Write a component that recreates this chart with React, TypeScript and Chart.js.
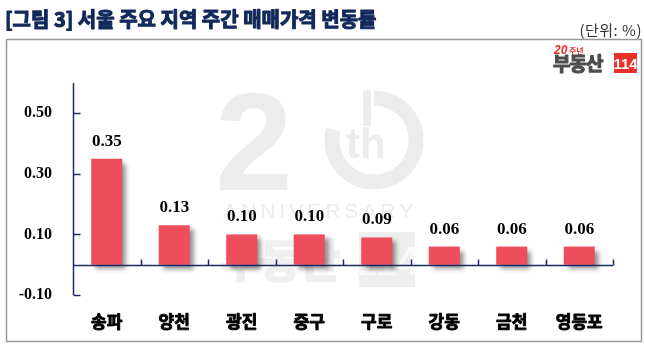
import React, { useEffect, useRef } from 'react';
import { Chart, registerables } from 'chart.js';

Chart.register(...registerables);

const categories = ['송파', '양천', '광진', '중구', '구로', '강동', '금천', '영등포'];
const values = [0.35, 0.13, 0.1, 0.1, 0.09, 0.06, 0.06, 0.06];
const yTickValues = [-0.1, 0.1, 0.3, 0.5];
const yMin = -0.1;
const yMax = 0.6;
const titleText = '[그림 3] 서울 주요 지역 주간 매매가격 변동률';
const unitText = '(단위: %)';

const NAVY = '#1b2a66';
const WM = '#ececec';

function boldText(ctx: CanvasRenderingContext2D, text: string, x: number, y: number, w: number) {
  ctx.lineWidth = w;
  ctx.lineJoin = 'round';
  ctx.strokeStyle = ctx.fillStyle as string;
  ctx.strokeText(text, x, y);
  ctx.fillText(text, x, y);
}

const deco = {
  id: 'deco',
  beforeDatasetsDraw(chart: any) {
    const ctx = chart.ctx as CanvasRenderingContext2D;
    ctx.save();
    // watermark
    ctx.fillStyle = WM;
    ctx.strokeStyle = WM;
    ctx.textBaseline = 'alphabetic';
    ctx.textAlign = 'left';
    ctx.font = 'bold 140px "Liberation Sans"';
    ctx.fillText('2', 215, 190);
    ctx.lineWidth = 15;
    ctx.beginPath();
    ctx.arc(374, 140, 42, -Math.PI / 2, Math.PI * 1.08);
    ctx.stroke();
    ctx.fillRect(363, 90, 8, 36);
    ctx.font = 'bold 42px "Liberation Sans"';
    ctx.fillText('th', 346, 158);
    ctx.font = '21px "Liberation Sans"';
    (ctx as any).letterSpacing = '4px';
    ctx.fillText('ANNIVERSARY', 223, 218);
    (ctx as any).letterSpacing = '-2px';
    ctx.fillStyle = '#efefef';
    ctx.font = 'bold 45px "Noto Sans CJK KR"';
    boldText(ctx, '부동산', 220, 278, 2);
    (ctx as any).letterSpacing = '0px';
    ctx.fillStyle = '#eeeeee';
    ctx.fillRect(359, 232, 56, 55);
    ctx.fillStyle = '#f9f9f9';
    ctx.font = 'bold 40px "Liberation Sans Narrow", "Liberation Sans"';
    ctx.textAlign = 'center';
    ctx.fillText('114', 387, 275);
    ctx.restore();

    // bar shadow
    ctx.save();
    ctx.shadowColor = 'rgba(0,0,0,0.45)';
    ctx.shadowBlur = 5;
    ctx.shadowOffsetX = 4;
    ctx.shadowOffsetY = 4;
  },
  afterDatasetsDraw(chart: any) {
    const ctx = chart.ctx as CanvasRenderingContext2D;
    ctx.restore();
    const { chartArea } = chart;
    const xs = chart.scales.x;
    const ys = chart.scales.y;
    ctx.save();
    ctx.strokeStyle = NAVY;
    ctx.lineWidth = 1.5;
    const left = Math.round(chartArea.left) + 0.5;
    // y axis line
    ctx.beginPath();
    ctx.moveTo(left, ys.getPixelForValue(yMax));
    ctx.lineTo(left, ys.getPixelForValue(yMin));
    ctx.stroke();
    // y ticks (inside)
    yTickValues.forEach((v) => {
      const y = Math.round(ys.getPixelForValue(v)) + 0.5;
      ctx.beginPath();
      ctx.moveTo(left, y);
      ctx.lineTo(left + 7, y);
      ctx.stroke();
    });
    // x axis at zero
    const y0 = Math.round(ys.getPixelForValue(0)) + 0.5;
    ctx.beginPath();
    ctx.moveTo(left, y0);
    ctx.lineTo(chartArea.right, y0);
    ctx.stroke();
    for (let i = 1; i <= categories.length; i++) {
      const x = Math.round(xs.getPixelForValue(i - 0.5)) + 0.5;
      ctx.beginPath();
      ctx.moveTo(x, y0);
      ctx.lineTo(x, y0 - 6);
      ctx.stroke();
    }
    // value labels
    const meta = chart.getDatasetMeta(0);
    ctx.fillStyle = '#000';
    ctx.font = 'bold 17px "Liberation Serif"';
    ctx.textAlign = 'center';
    ctx.textBaseline = 'alphabetic';
    meta.data.forEach((bar: any, i: number) => {
      ctx.fillText(values[i].toFixed(2), bar.x, bar.y - 13);
    });
    // category labels
    ctx.font = 'bold 17px "Noto Sans CJK KR"';
    categories.forEach((c, i) => {
      boldText(ctx, c, xs.getPixelForValue(i), 328, 0.9);
    });
    ctx.restore();
  },
  afterDraw(chart: any) {
    const ctx = chart.ctx as CanvasRenderingContext2D;
    ctx.save();
    // title
    ctx.fillStyle = '#13295b';
    ctx.font = 'bold 20px "Noto Sans CJK KR"';
    ctx.textAlign = 'left';
    ctx.textBaseline = 'alphabetic';
    boldText(ctx, titleText, 5, 27, 1.1);
    // unit
    ctx.fillStyle = '#333';
    ctx.font = '15px "Noto Sans CJK KR"';
    (ctx as any).letterSpacing = '0.5px';
    ctx.textAlign = 'right';
    ctx.fillText(unitText, 642, 36);
    (ctx as any).letterSpacing = '0px';
    // frame
    ctx.strokeStyle = '#999';
    ctx.lineWidth = 1.5;
    ctx.strokeRect(6.5, 39.5, 635, 302);
    // logo
    ctx.textAlign = 'left';
    ctx.fillStyle = '#e8312a';
    ctx.font = 'bold italic 12px "Liberation Sans"';
    ctx.fillText('20', 554, 54);
    ctx.font = 'bold 8px "Noto Sans CJK KR"';
    ctx.fillText('주년', 569, 54);
    ctx.fillStyle = '#4d4d4d';
    ctx.font = 'bold 19px "Noto Sans CJK KR"';
    (ctx as any).letterSpacing = '-1px';
    boldText(ctx, '부동산', 553, 71, 1.2);
    (ctx as any).letterSpacing = '0px';
    ctx.fillStyle = '#e8312a';
    ctx.fillRect(614, 53, 23, 20);
    ctx.fillStyle = '#fff';
    ctx.font = 'bold 15px "Liberation Sans Narrow", "Liberation Sans"';
    ctx.textAlign = 'center';
    ctx.fillText('114', 625.5, 69);
    ctx.restore();
  },
};

export default function App() {
  const ref = useRef<HTMLCanvasElement>(null);
  useEffect(() => {
    const chart = new Chart(ref.current as HTMLCanvasElement, {
      type: 'bar',
      data: {
        labels: categories,
        datasets: [
          {
            data: values,
            backgroundColor: '#EE4E5C',
            barPercentage: 0.46,
            categoryPercentage: 1,
          },
        ],
      },
      options: {
        animation: false,
        responsive: false,
        maintainAspectRatio: false,
        devicePixelRatio: 1,
        layout: { padding: { left: 0, right: 32, top: 83, bottom: 0 } },
        plugins: { legend: { display: false }, tooltip: { enabled: false } },
        scales: {
          x: {
            grid: { display: false, drawTicks: false },
            border: { display: false },
            ticks: { display: false },
            afterFit(s: any) {
              s.height = 67;
            },
          },
          y: {
            min: yMin,
            max: yMax,
            afterBuildTicks(s: any) {
              s.ticks = yTickValues.map((v) => ({ value: v }));
            },
            grid: { display: false, drawTicks: false },
            border: { display: false },
            ticks: {
              padding: 21,
              color: '#000',
              font: { family: '"Liberation Serif"', size: 16, weight: 'bold' },
              callback: (v: any) => Number(v).toFixed(2),
            },
            afterFit(s: any) {
              s.width = 73;
            },
          },
        },
      } as any,
      plugins: [deco],
    });
    return () => chart.destroy();
  }, []);
  return (
    <div style={{ position: 'absolute', left: 0, top: 0, width: 645, height: 362, background: '#fff' }}>
      <canvas ref={ref} width={645} height={362} style={{ width: 645, height: 362, display: 'block' }} />
    </div>
  );
}
